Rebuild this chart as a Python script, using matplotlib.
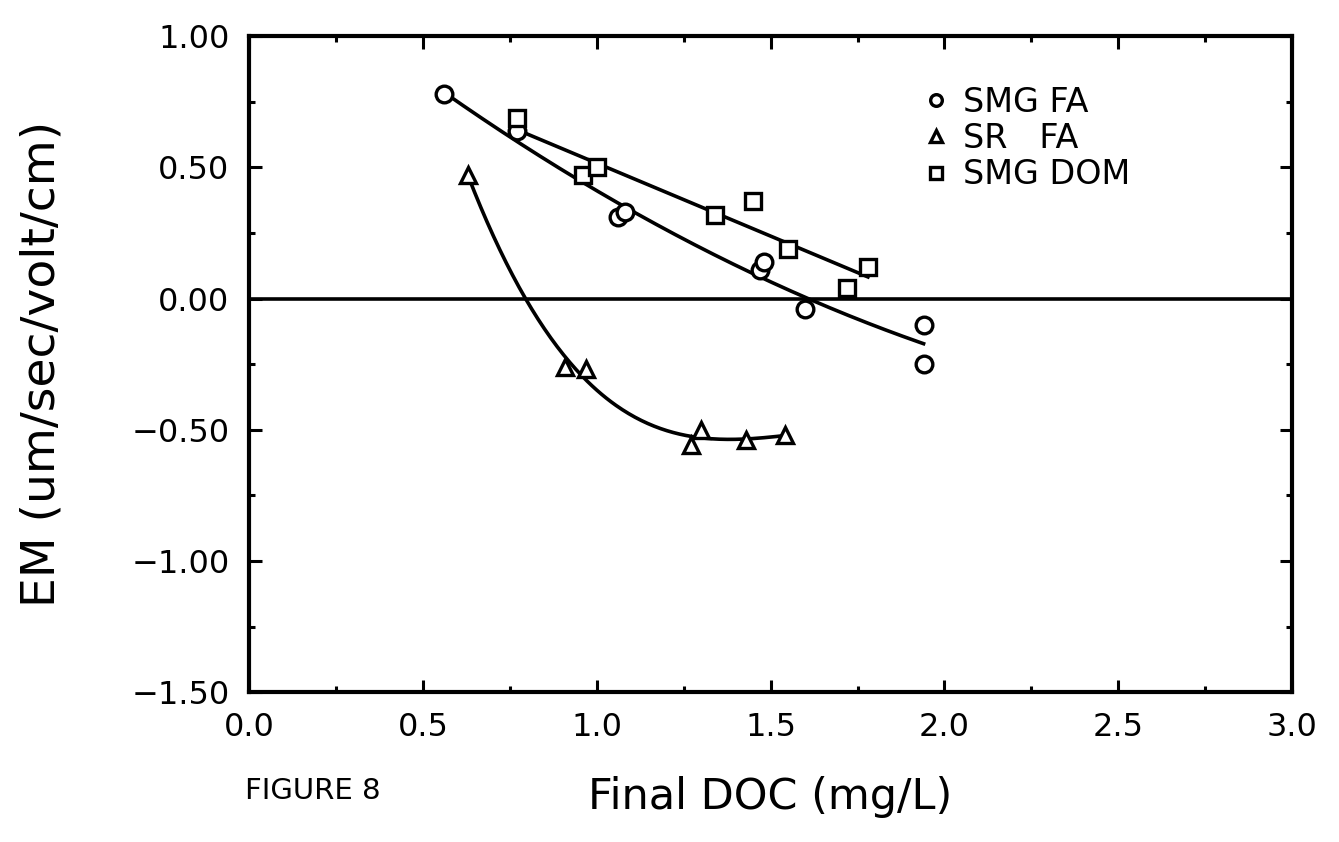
import numpy as np
import matplotlib
matplotlib.use("Agg")
import matplotlib.pyplot as plt
from matplotlib.ticker import MultipleLocator, FuncFormatter

# ---- data ----
smg_fa_x = [0.56, 0.77, 1.06, 1.08, 1.47, 1.48, 1.60, 1.94, 1.94]
smg_fa_y = [0.78, 0.64, 0.31, 0.33, 0.11, 0.14, -0.04, -0.10, -0.25]

sr_fa_x = [0.63, 0.91, 0.97, 1.27, 1.30, 1.43, 1.54]
sr_fa_y = [0.47, -0.26, -0.27, -0.56, -0.50, -0.54, -0.52]

smg_dom_x = [0.77, 0.96, 1.00, 1.34, 1.45, 1.55, 1.72, 1.78]
smg_dom_y = [0.69, 0.47, 0.50, 0.32, 0.37, 0.19, 0.04, 0.12]

legend_labels = ["SMG FA", "SR   FA", "SMG DOM"]
x_label = "Final DOC (mg/L)"
y_label = "EM (um/sec/volt/cm)"
fig_caption = "FIGURE 8"

plt.rcParams['font.family'] = ['DejaVu Sans']

fig = plt.figure(figsize=(13.39, 8.42), dpi=100)
ax = fig.add_axes([0.186, 0.178, 0.779, 0.779])

lw = 2.6
mk = dict(markersize=12, markeredgewidth=2.4, markerfacecolor='white',
          markeredgecolor='black', linestyle='none', color='black')

# fitted curves computed from the data
def fit_curve(xs, ys, deg):
    xs = np.asarray(xs); ys = np.asarray(ys)
    p = np.polyfit(xs, ys, deg)
    xx = np.linspace(xs.min(), xs.max(), 200)
    return xx, np.polyval(p, xx)

xx, yy = fit_curve(smg_fa_x, smg_fa_y, 2)
ax.plot(xx, yy, color='black', lw=lw, zorder=2)
xx, yy = fit_curve(smg_dom_x, smg_dom_y, 1)
ax.plot(xx, yy, color='black', lw=lw, zorder=2)
xx, yy = fit_curve(sr_fa_x, sr_fa_y, 3)
ax.plot(xx, yy, color='black', lw=lw, zorder=2)

ax.axhline(0, color='black', lw=2.6, zorder=1)

h1, = ax.plot(smg_fa_x, smg_fa_y, marker='o', zorder=3, **mk)
h2, = ax.plot(sr_fa_x, sr_fa_y, marker='^', zorder=3, **mk)
h3, = ax.plot(smg_dom_x, smg_dom_y, marker='s', zorder=3, **mk)

ax.set_xlim(0.0, 3.0)
ax.set_ylim(-1.5, 1.0)
ax.xaxis.set_major_locator(MultipleLocator(0.5))
ax.xaxis.set_minor_locator(MultipleLocator(0.25))
ax.yaxis.set_major_locator(MultipleLocator(0.5))
ax.yaxis.set_minor_locator(MultipleLocator(0.25))
ax.xaxis.set_major_formatter(FuncFormatter(lambda v, p: f"{v:.1f}".replace('-', '\u2212')))
ax.yaxis.set_major_formatter(FuncFormatter(lambda v, p: f"{v:.2f}".replace('-', '\u2212')))

ax.tick_params(which='both', direction='in', top=True, right=True, width=2.2)
ax.tick_params(which='major', length=9, labelsize=23, pad=14)
ax.tick_params(which='minor', length=4)
for s in ax.spines.values():
    s.set_linewidth(3)

ax.set_xlabel(x_label, fontsize=31, labelpad=24)
ax.set_ylabel(y_label, fontsize=34, labelpad=48)
fig.text(0.183, 0.06, fig_caption, fontsize=21, ha='left', va='center')

leg = ax.legend([h1, h2, h3], legend_labels, loc='upper left',
                bbox_to_anchor=(0.63, 0.945), frameon=False, fontsize=24,
                handletextpad=0.3, labelspacing=0.1, markerscale=0.7,
                handlelength=1.0, borderaxespad=0)

fig.savefig("out.png", dpi=100)
